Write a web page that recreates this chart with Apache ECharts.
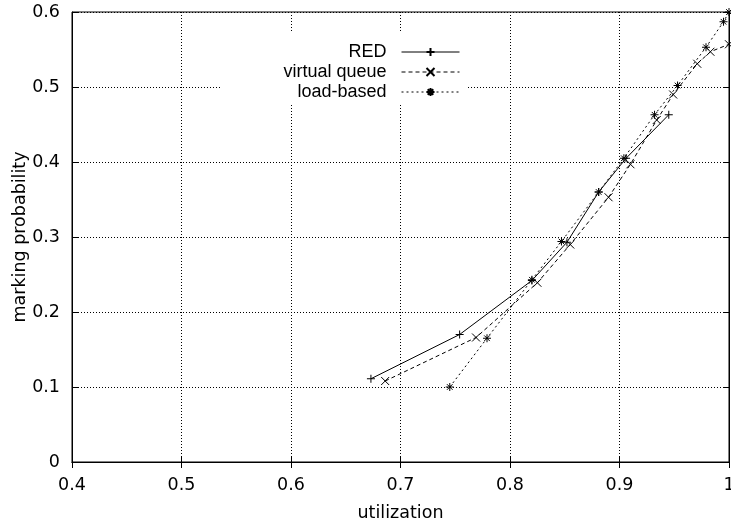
<!DOCTYPE html>
<html>
<head>
<meta charset="utf-8">
<script src="https://cdn.jsdelivr.net/npm/echarts@6/dist/echarts.min.js"></script>
<style>
html, body { margin: 0; padding: 0; background: #fff; }
#chart { width: 731px; height: 529px; }
</style>
</head>
<body>
<div id="chart"></div>
<script>
// values: [utilization, marking probability]
var redData = [[0.673, 0.111], [0.754, 0.170], [0.820, 0.242], [0.852, 0.293],
	[0.881, 0.360], [0.906, 0.405], [0.945, 0.463]];
var vqData = [[0.686, 0.108], [0.769, 0.166], [0.825, 0.239], [0.855, 0.290],
	[0.890, 0.353], [0.910, 0.397], [0.934, 0.456], [0.949, 0.490],
	[0.971, 0.531], [0.983, 0.547], [1.0, 0.557]];
var loadData = [[0.745, 0.100], [0.779, 0.165], [0.820, 0.243], [0.847, 0.294],
	[0.881, 0.360], [0.904, 0.405], [0.932, 0.463], [0.953, 0.502],
	[0.979, 0.553], [0.995, 0.587], [1.0, 0.600]];
var seriesNames = ["RED", "virtual queue", "load-based"];

var AXFONT = "DejaVu Sans, sans-serif";
var LGFONT = "Liberation Sans, Arial, Helvetica, sans-serif";
var FS = 17.5;
var plus = "path://M5,0L5,10M0,5L10,5";
var cross = "path://M0,0L10,10M10,0L0,10";
var star = "path://M5,0L5,10M0,5L10,5M1.5,1.5L8.5,8.5M8.5,1.5L1.5,8.5";

function fmt(v)
{
	return (Math.round(v * 10) / 10).toString();
}

function mark(name, data, symbol, dash)
{
	return {
		name: name,
		type: "line",
		data: data,
		symbol: symbol,
		symbolSize: 8,
		showSymbol: true,
		animation: false,
		lineStyle: { color: "#000", width: 1, type: dash },
		itemStyle: { color: "#000", borderColor: "#000", borderWidth: 1 },
		z: 5
	};
}

var tick = { show: true, inside: true, length: 6, lineStyle: { color: "#000" } };
var line = { show: true, lineStyle: { color: "#000" } };
var grid = { show: true, lineStyle: { color: "#000", type: [1, 2] } };

var chart = echarts.init(document.getElementById("chart"));
chart.setOption({
	backgroundColor: "#fff",
	animation: false,
	grid: {
		left: 72, right: 2, top: 12, bottom: 67,
		outerBoundsMode: "none", containLabel: false,
		show: true, borderColor: "#000", borderWidth: 1
	},
	graphic: [{
		type: "rect",
		shape: { x: 221, y: 31, width: 247, height: 74 },
		style: { fill: "#fff" },
		z: 3
	}],
	legend: {
		data: seriesNames,
		orient: "vertical",
		align: "right",
		right: 271,
		top: 43,
		padding: 0,
		itemWidth: 58,
		itemHeight: 10,
		itemGap: 2,
		z: 4,
		formatter: function(n){ return n + "  "; },
		lineStyle: { width: 1 },
		textStyle: { fontFamily: LGFONT, fontSize: 18, color: "#000" }
	},
	xAxis: [{
		type: "value",
		min: 0.4, max: 1, interval: 0.1,
		name: "utilization",
		nameLocation: "middle",
		nameGap: 42,
		nameMoveOverlap: false,
		nameTextStyle: { fontFamily: AXFONT, fontSize: FS, color: "#000" },
		axisLine: line,
		axisTick: tick,
		axisLabel: { fontFamily: AXFONT, fontSize: FS, color: "#000", margin: 14, formatter: fmt },
		splitLine: grid
	}, {
		type: "value",
		position: "top",
		min: 0.4, max: 1, interval: 0.1,
		axisLine: line,
		axisTick: tick,
		axisLabel: { show: false },
		splitLine: { show: false }
	}],
	yAxis: [{
		type: "value",
		min: 0, max: 0.6, interval: 0.1,
		name: "marking probability",
		nameLocation: "middle",
		nameGap: 43,
		nameMoveOverlap: false,
		nameTextStyle: { fontFamily: AXFONT, fontSize: FS, color: "#000" },
		axisLine: line,
		axisTick: tick,
		axisLabel: { fontFamily: AXFONT, fontSize: FS, color: "#000", margin: 12, formatter: fmt },
		splitLine: grid
	}, {
		type: "value",
		position: "right",
		min: 0, max: 0.6, interval: 0.1,
		axisLine: line,
		axisTick: tick,
		axisLabel: { show: false },
		splitLine: { show: false }
	}],
	series: [
		mark(seriesNames[0], redData, plus, "solid"),
		mark(seriesNames[1], vqData, cross, [4, 3]),
		mark(seriesNames[2], loadData, star, [2, 3])
	]
});
</script>
</body>
</html>
